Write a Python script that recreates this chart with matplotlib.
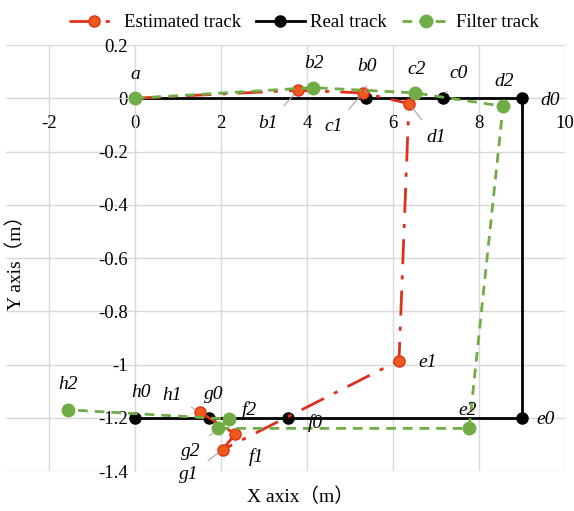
import numpy as np
import matplotlib
matplotlib.use('Agg')
import matplotlib.pyplot as plt
from matplotlib.ticker import FuncFormatter, MultipleLocator

# =============================================================================
# Datos
# =============================================================================
# Trayectoria real
real_nombres = ['a', 'b0', 'c0', 'd0', 'e0', 'f0', 'g0', 'h0']
real_x = [0.0, 5.37, 7.16, 9.0, 9.0, 3.56, 1.72, 0.0]
real_y = [0.0, 0.0, 0.0, 0.0, -1.2, -1.2, -1.2, -1.2]

# Trayectoria estimada
est_nombres = ['', 'b1', 'c1', 'd1', 'e1', 'g1', 'f1', 'h1']
est_x = [0.0, 3.79, 5.30, 6.37, 6.14, 2.04, 2.33, 1.51]
est_y = [0.0, 0.03, 0.02, -0.02, -0.985, -1.32, -1.26, -1.18]

# Trayectoria filtrada
fil_nombres = ['', 'b2', 'c2', 'd2', 'e2', 'g2', 'f2', 'h2']
fil_x = [0.0, 4.14, 6.51, 8.56, 7.77, 1.94, 2.19, -1.56]
fil_y = [0.0, 0.04, 0.02, -0.03, -1.24, -1.24, -1.205, -1.17]

x_ticks = [-2, 0, 2, 4, 6, 8, 10]

# Posición de cada etiqueta (desplazamiento en píxeles, línea guía)
etiquetas = {
    'a': (0, 24, False), 'b0': (1, 32, True), 'c0': (16, 25, True),
    'd0': (28, -2, False), 'e0': (24, -2, False), 'f0': (27, -5, False),
    'g0': (5, 23, False), 'h0': (6, 25, False),
    'b1': (-30, -33, True), 'c1': (-29, -34, True), 'd1': (27, -34, True),
    'e1': (29, -2, False), 'f1': (21, -23, False), 'g1': (-34, -25, True),
    'h1': (-28, 17, True),
    'b2': (1, 24, False), 'c2': (2, 23, False), 'd2': (1, 25, False),
    'e2': (-2, 18, False), 'f2': (20, 9, False), 'g2': (-28, -23, True),
    'h2': (0, 25, False),
}

# =============================================================================
# Estilo general
# =============================================================================
plt.rcParams['font.family'] = ['Liberation Serif', 'Noto Sans CJK SC']
plt.rcParams['axes.unicode_minus'] = False

rojo = '#dc321b'
verde = '#70ad47'

fig = plt.figure(figsize=(5.74, 5.11), dpi=100)
ax = fig.add_axes([6/574, 1 - 471/511, 559/574, 426/511])

ax.set_xlim(-3, 10)
ax.set_ylim(-1.4, 0.2)
ax.xaxis.set_major_locator(plt.FixedLocator(x_ticks))
ax.yaxis.set_major_locator(MultipleLocator(0.2))
fmt = FuncFormatter(lambda v, p: '%g' % round(v, 2))
ax.xaxis.set_major_formatter(fmt)
ax.yaxis.set_major_formatter(fmt)

ax.grid(True, color='#d9d9d9', linewidth=1)
ax.set_axisbelow(True)
for lado in ['top', 'right']:
    ax.spines[lado].set_visible(False)
ax.spines['bottom'].set_position(('data', 0))
ax.spines['left'].set_position(('data', 0))
ax.spines['bottom'].set_color('#d9d9d9')
ax.spines['left'].set_color('#d9d9d9')
ax.tick_params(axis='x', length=0, pad=12, labelsize=13.5)
ax.tick_params(axis='y', length=0, pad=5, labelsize=13.5)

# =============================================================================
# Trayectorias
# =============================================================================
l_real, = ax.plot(real_x, real_y, '-', color='black', lw=2, marker='o',
                  ms=8, label='Real track', zorder=3)
l_est, = ax.plot(est_x, est_y, color=rojo, lw=2, dashes=[9, 4, 1.5, 4],
                 marker='o', ms=8, mfc='#ee5a1c', mec=rojo,
                 label='Estimated track', zorder=4)
l_fil, = ax.plot(fil_x, fil_y, color=verde, lw=2, dashes=[3.5, 2.5],
                 marker='o', ms=9, label='Filter track', zorder=5)

# Etiquetas de los puntos
for nombres, xs, ys in [(real_nombres, real_x, real_y),
                        (est_nombres, est_x, est_y),
                        (fil_nombres, fil_x, fil_y)]:
    for n, x, y in zip(nombres, xs, ys):
        if n == '':
            continue
        dx, dy, guia = etiquetas[n]
        props = dict(arrowstyle='-', color='#a6a6a6', lw=0.8,
                     shrinkA=6, shrinkB=4) if guia else None
        ax.annotate(n, (x, y), xytext=(dx, dy), textcoords='offset pixels',
                    ha='center', va='center', fontsize=14, style='italic',
                    arrowprops=props, zorder=6)

# Leyenda
fig.legend(handles=[l_est, l_real, l_fil], loc='upper center',
           bbox_to_anchor=(0.53, 1.005), ncol=3, frameon=False,
           fontsize=13.5, handlelength=2.6, columnspacing=0.8,
           handletextpad=0.3)

# Títulos de los ejes
fig.text(300/574, 1 - 497/511, 'X axix（m）', ha='center', va='center',
         fontsize=14)
fig.text(16/574, 1 - 258/511, 'Y axis（m）', ha='center', va='center',
         rotation=90, fontsize=14)

fig.savefig('out.png', dpi=100)
